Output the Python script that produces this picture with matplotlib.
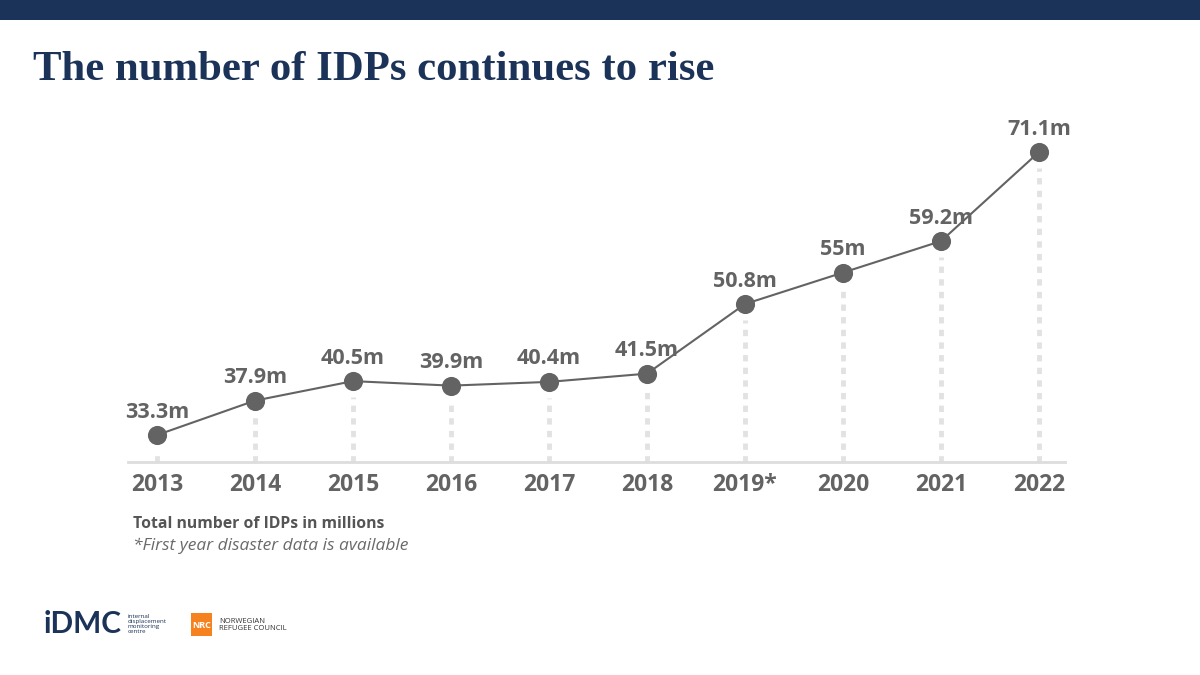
import matplotlib
matplotlib.use("Agg")
import matplotlib.pyplot as plt
from matplotlib.patches import Rectangle

years = ["2013", "2014", "2015", "2016", "2017", "2018", "2019*", "2020", "2021", "2022"]
values = [33.3, 37.9, 40.5, 39.9, 40.4, 41.5, 50.8, 55.0, 59.2, 71.1]
labels = ["33.3m", "37.9m", "40.5m", "39.9m", "40.4m", "41.5m", "50.8m", "55m", "59.2m", "71.1m"]

NAVY = "#1b3358"
GRAY = "#636363"
LIGHT = "#e2e2e2"
FONT = ["Open Sans", "DejaVu Sans"]

W, H = 1200, 675
fig = plt.figure(figsize=(12, 6.75), dpi=100)
fig.patch.set_facecolor("white")

# top banner
fig.add_artist(Rectangle((0, 1 - 20 / H), 1, 20 / H, transform=fig.transFigure,
                         facecolor=NAVY, edgecolor="none"))

# title
fig.text(33 / W, 1 - 80 / H, "The number of IDPs continues to rise",
         fontsize=30.8, fontweight="bold", color=NAVY,
         family=["Liberation Serif", "DejaVu Serif"], va="baseline", ha="left")

# axes
ax = fig.add_axes([128 / W, 1 - 462 / H, 937 / W, 332 / H])
x = list(range(len(years)))
ax.set_xlim(-0.296, 9.265)
ax.set_ylim(29.7, 74.04)
for s in ax.spines.values():
    s.set_visible(False)
ax.spines["bottom"].set_visible(True)
ax.spines["bottom"].set_color("#dddddd")
ax.spines["bottom"].set_linewidth(2)
ax.set_yticks([])
ax.set_xticks(x)
ax.set_xticklabels(years, fontsize=16.5, fontweight="bold", color=GRAY, family=FONT)
ax.tick_params(axis="x", length=0, pad=8)

# dotted drop lines
for xi, v in zip(x, values):
    top = v - 2.1
    if top > 29.7:
        ax.vlines(xi, 29.7, top, colors=LIGHT, linewidth=3.5,
                  linestyles=(0, (1.3, 1.3)), zorder=1)

ax.plot(x, values, color=GRAY, linewidth=1.5, zorder=2)
ax.scatter(x, values, s=190, color=GRAY, zorder=3, linewidths=0)

for xi, v, lab in zip(x, values, labels):
    ax.annotate(lab, (xi, v), xytext=(0, 9), textcoords="offset points",
                ha="center", va="bottom", fontsize=15.5, fontweight="bold",
                color=GRAY, family=FONT)

# footnotes
fig.text(133 / W, 1 - 524 / H, "Total number of IDPs in millions", fontsize=11.3,
         fontweight="bold", color="#555555", family=FONT, va="center")
fig.text(133 / W, 1 - 546 / H, "*First year disaster data is available", fontsize=12.5,
         style="italic", color="#6a6a6a", family=FONT, va="center")

# logos
fig.text(44 / W, 1 - 624 / H, "iDMC", fontsize=21.5, fontweight="bold", color=NAVY,
         family=["Lato", "DejaVu Sans"], va="center", ha="left")
fig.text(128 / W, 1 - 624 / H, "internal\ndisplacement\nmonitoring\ncentre",
         fontsize=4.5, color=NAVY, family=FONT, va="center", ha="left", linespacing=1.0)
fig.add_artist(Rectangle((191 / W, 1 - 636 / H), 21 / W, 23 / H, transform=fig.transFigure,
                         facecolor="#f5821f", edgecolor="none"))
fig.text(201.5 / W, 1 - 625 / H, "NRC", fontsize=6.5, fontweight="bold", color="white",
         family=FONT, va="center", ha="center")
fig.text(219 / W, 1 - 625 / H, "NORWEGIAN\nREFUGEE COUNCIL", fontsize=5.5, color="#333333",
         family=FONT, va="center", ha="left", linespacing=1.1)

fig.savefig("out.png", dpi=100, facecolor="white")
